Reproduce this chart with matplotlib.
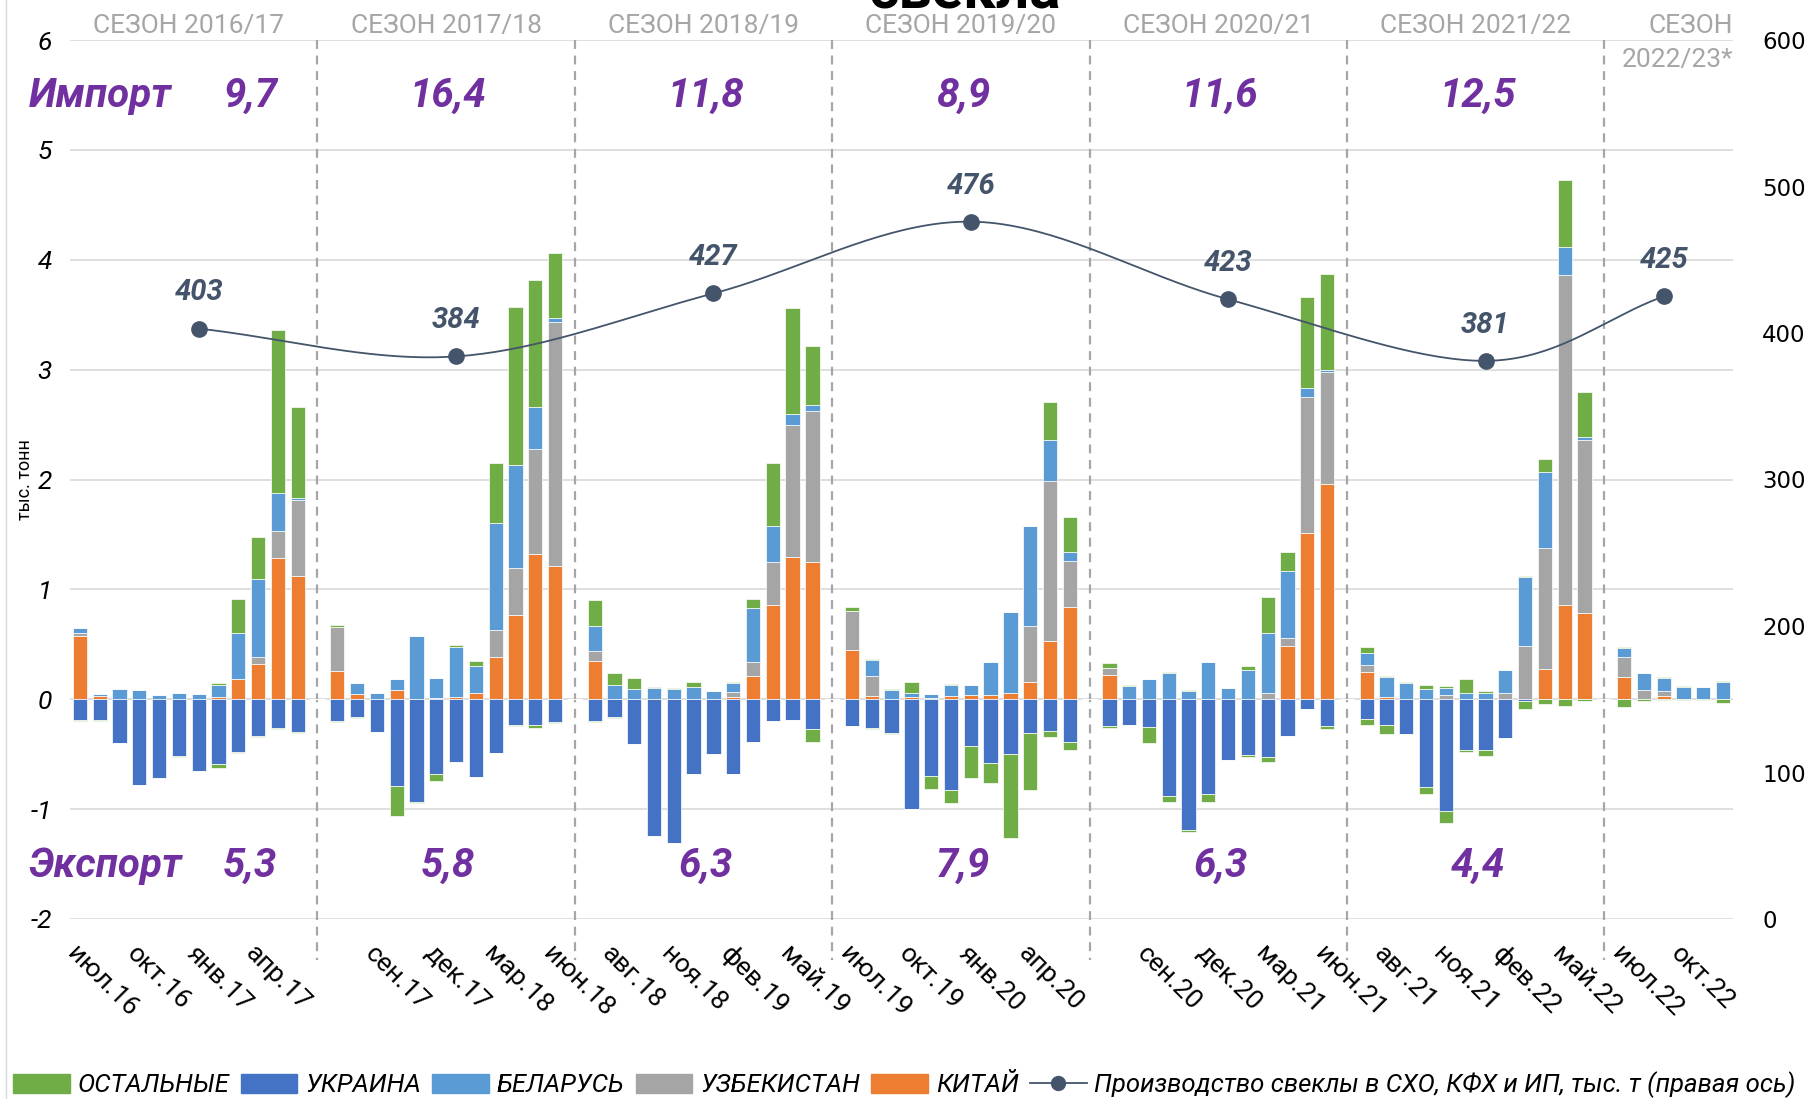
import matplotlib.pyplot as plt
import numpy as np
from matplotlib.patches import Patch
from matplotlib.lines import Line2D

plt.rcParams['font.family'] = ['Roboto', 'DejaVu Sans']

# месяцы (пустая строка = разрыв между сезонами)
periods = [
    'июл.16', 'авг.16', 'сен.16', 'окт.16', 'ноя.16', 'дек.16', 'янв.17', 'фев.17', 'мар.17', 'апр.17', 'май.17', 'июн.17', '',
    'июл.17', 'авг.17', 'сен.17', 'окт.17', 'ноя.17', 'дек.17', 'янв.18', 'фев.18', 'мар.18', 'апр.18', 'май.18', 'июн.18', '',
    'июл.18', 'авг.18', 'сен.18', 'окт.18', 'ноя.18', 'дек.18', 'янв.19', 'фев.19', 'мар.19', 'апр.19', 'май.19', 'июн.19', '',
    'июл.19', 'авг.19', 'сен.19', 'окт.19', 'ноя.19', 'дек.19', 'янв.20', 'фев.20', 'мар.20', 'апр.20', 'май.20', 'июн.20', '',
    'июл.20', 'авг.20', 'сен.20', 'окт.20', 'ноя.20', 'дек.20', 'янв.21', 'фев.21', 'мар.21', 'апр.21', 'май.21', 'июн.21', '',
    'июл.21', 'авг.21', 'сен.21', 'окт.21', 'ноя.21', 'дек.21', 'янв.22', 'фев.22', 'мар.22', 'апр.22', 'май.22', 'июн.22', '',
    'июл.22', 'авг.22', 'сен.22', 'окт.22', 'ноя.22', 'дек.22',
]

# импорт, тыс. т
china_imp = [
    .58, .03, 0, 0, 0, 0, 0, .017, .18, .32, 1.29, 1.12, 0,
    .26, .045, 0, .083, 0, .014, .024, .056, .38, .77, 1.325, 1.21, 0,
    .345, 0, 0, 0, 0, 0, 0, .02, .215, .86, 1.295, 1.25, 0,
    .446, .03, 0, .02, .015, .03, .036, .04, .057, .154, .527, .84, 0,
    .223, 0, 0, 0, 0, 0, 0, 0, 0, .483, 1.517, 1.96, 0,
    .25, .02, 0, 0, 0, 0, 0, 0, 0, .276, .86, .787, 0,
    .20, 0, .028, 0, 0, 0,
]
uzb_imp = [
    .025, 0, 0, 0, 0, 0, 0, 0, 0, .06, .24, .695, 0,
    .40, 0, 0, 0, 0, 0, 0, 0, .25, .42, .955, 2.22, 0,
    .09, 0, 0, 0, 0, 0, 0, .045, .125, .39, 1.20, 1.375, 0,
    .354, .185, 0, 0, 0, 0, 0, 0, 0, .516, 1.458, .418, 0,
    .061, 0, 0, 0, 0, 0, 0, 0, .053, .077, 1.238, 1.02, 0,
    .066, 0, 0, 0, .04, 0, 0, .053, .483, 1.104, 3.0, 1.57, 0,
    .187, .083, .044, 0, 0, 0,
]
bel_imp = [
    .045, .015, .09, .08, .035, .06, .045, .113, .425, .71, .345, .015, 0,
    0, .10, .056, .097, .58, .18, .456, .244, .97, .94, .38, .04, 0,
    .23, .13, .097, .105, .097, .114, .073, .08, .49, .325, .105, .05, 0,
    0, .145, .08, .04, .03, .10, .094, .30, .733, .905, .37, .085, 0,
    0, .118, .18, .235, .073, .337, .10, .264, .547, .61, .075, .02, 0,
    .104, .187, .146, .097, .06, .06, .06, .211, .632, .69, .26, .033, 0,
    .077, .155, .121, .116, .116, .16,
]
other_imp = [
    0, 0, 0, 0, 0, 0, 0, .016, .305, .39, 1.485, .83, 0,
    .015, 0, 0, 0, 0, 0, .01, .05, .55, 1.44, 1.16, .59, 0,
    .235, .105, .093, .01, .005, .04, .005, .012, .08, .575, .965, .54, 0,
    .04, .01, .01, .094, .005, .008, 0, 0, 0, .005, .35, .317, 0,
    .046, .012, 0, .012, .007, 0, 0, .036, .33, .17, .83, .866, 0,
    .06, .008, .008, .033, .018, .12, .017, .006, .009, .12, .61, .41, 0,
    .011, 0, .011, .004, 0, .01,
]
# экспорт, тыс. т (со знаком минус)
ukr_exp = [
    -.19, -.19, -.40, -.78, -.72, -.515, -.65, -.585, -.48, -.33, -.26, -.30, 0,
    -.20, -.16, -.30, -.79, -.935, -.68, -.567, -.71, -.487, -.236, -.236, -.21, 0,
    -.195, -.16, -.41, -1.245, -1.306, -.677, -.50, -.677, -.385, -.195, -.187, -.27, 0,
    -.247, -.264, -.31, -1.0, -.70, -.824, -.426, -.576, -.495, -.31, -.29, -.385, 0,
    -.24, -.23, -.25, -.88, -1.19, -.86, -.55, -.507, -.53, -.337, -.093, -.243, 0,
    -.18, -.23, -.316, -.80, -1.02, -.466, -.458, -.35, -.02, 0, 0, 0, 0,
    0, 0, 0, 0, 0, 0,
]
other_exp = [
    -.01, -.01, 0, 0, 0, -.01, 0, -.04, -.01, -.01, -.01, -.01, 0,
    -.01, -.01, 0, -.27, -.01, -.065, 0, 0, 0, -.01, -.03, -.01, 0,
    -.01, -.01, 0, 0, 0, 0, 0, 0, 0, 0, 0, -.115, 0,
    0, -.005, -.005, 0, -.12, -.121, -.294, -.184, -.77, -.514, -.055, -.075, 0,
    -.02, 0, -.15, -.057, -.02, -.077, 0, -.02, -.04, 0, 0, -.027, 0,
    -.055, -.086, 0, -.064, -.11, -.014, -.057, 0, -.073, -.045, -.06, -.016, 0,
    -.07, -.02, -.01, -.005, -.005, -.033,
]

# производство свеклы, тыс. т (правая ось)
prod_months = ['янв.17', 'янв.18', 'янв.19', 'янв.20', 'янв.21', 'янв.22', 'сен.22']
prod = [403, 384, 427, 476, 423, 381, 425]

seasons = ['СЕЗОН 2016/17', 'СЕЗОН 2017/18', 'СЕЗОН 2018/19', 'СЕЗОН 2019/20',
           'СЕЗОН 2020/21', 'СЕЗОН 2021/22']
import_total = ['9,7', '16,4', '11,8', '8,9', '11,6', '12,5']
export_total = ['5,3', '5,8', '6,3', '7,9', '6,3', '4,4']

colors = {
    'other': '#70AD47',
    'ukr': '#4472C4',
    'bel': '#5B9BD5',
    'uzb': '#A5A5A5',
    'china': '#ED7D31',
}
purple = '#7030A0'
slate = '#44546A'

x = np.arange(len(periods))
gaps = [i for i, p in enumerate(periods) if p == '']
starts = [0] + [g + 1 for g in gaps]

fig = plt.figure(figsize=(18.1, 10.99), dpi=100)
ax = fig.add_axes([70 / 1810, 1 - 919 / 1099, 1663 / 1810, 879 / 1099])

w = 0.72
bottom = np.zeros(len(x))
for vals, key in [(china_imp, 'china'), (uzb_imp, 'uzb'), (bel_imp, 'bel'), (other_imp, 'other')]:
    v = np.array(vals)
    ax.bar(x, v, w, bottom=bottom, color=colors[key], edgecolor='white', linewidth=0.5, zorder=2)
    bottom += v
bottom = np.zeros(len(x))
for vals, key in [(ukr_exp, 'ukr'), (other_exp, 'other')]:
    v = np.array(vals)
    ax.bar(x, v, w, bottom=bottom, color=colors[key], edgecolor='white', linewidth=0.5, zorder=2)
    bottom += v

ax.set_xlim(-0.5, len(x) - 0.5)
ax.set_ylim(-2, 6)
ax.set_yticks(range(-2, 7))
ax.set_yticklabels([str(t) for t in range(-2, 7)], fontsize=19, fontstyle='italic')
ax.set_xticks(x[::3])
ax.set_xticklabels(periods[::3], fontsize=19, rotation=-45, ha='left', va='top',
                   rotation_mode='anchor')
ax.tick_params(axis='x', length=0, pad=16)
ax.tick_params(axis='y', length=0, pad=13)
ax.grid(axis='y', color='#D9D9D9', linewidth=1.2, zorder=0)
ax.set_axisbelow(True)
for s in ax.spines.values():
    s.set_visible(False)

# разделители сезонов
for g in gaps:
    ax.plot([g, g], [6, -2.37], color='#A6A6A6', linestyle=(0, (4, 3)), linewidth=1.6,
            clip_on=False, zorder=1)

# подписи сезонов и итоги
for i, name in enumerate(seasons):
    c = starts[i] + 5.5
    ax.text(c, 6.13, name, ha='center', va='center', fontsize=19, color='#A6A6A6', clip_on=False)
    xi = c + 3.1 if i == 0 else c + 0.1
    ax.text(xi, 5.49, import_total[i], ha='center', va='center', fontsize=29,
            fontweight='bold', fontstyle='italic', color=purple)
    ax.text(xi, -1.52, export_total[i], ha='center', va='center', fontsize=29,
            fontweight='bold', fontstyle='italic', color=purple)
ax.text(len(x) - 0.5, 6.13, 'СЕЗОН', ha='right', va='center', fontsize=19, color='#A6A6A6',
        clip_on=False)
ax.text(len(x) - 0.5, 5.82, '2022/23*', ha='right', va='center', fontsize=19, color='#A6A6A6',
        clip_on=False)
ax.text(-2.6, 5.49, 'Импорт', ha='left', va='center', fontsize=29, fontweight='bold',
        fontstyle='italic', color=purple, clip_on=False)
ax.text(-2.6, -1.52, 'Экспорт', ha='left', va='center', fontsize=29, fontweight='bold',
        fontstyle='italic', color=purple, clip_on=False)

# правая ось: производство
ax2 = ax.twinx()
ax2.set_ylim(0, 600)
ax2.set_yticks(range(0, 601, 100))
ax2.set_yticklabels([str(t) for t in range(0, 601, 100)], fontsize=16.5, family='DejaVu Sans')
ax2.tick_params(axis='y', length=0, pad=21)
for s in ax2.spines.values():
    s.set_visible(False)

px = np.array([periods.index(m) for m in prod_months], dtype=float)
py = np.array(prod, dtype=float)
# сглаженная линия как в Excel (кривые Безье через точки)
pts = np.column_stack([px, py])
tang = np.zeros_like(pts)
tang[1:-1] = (pts[2:] - pts[:-2]) / 2
tang[0] = pts[1] - pts[0]
tang[-1] = pts[-1] - pts[-2]
t = np.linspace(0, 1, 40)[:, None]
curve = []
for i in range(len(pts) - 1):
    p0, p3 = pts[i], pts[i + 1]
    p1, p2 = p0 + tang[i] / 3, p3 - tang[i + 1] / 3
    seg = (1 - t) ** 3 * p0 + 3 * (1 - t) ** 2 * t * p1 + 3 * (1 - t) * t ** 2 * p2 + t ** 3 * p3
    curve.append(seg)
curve = np.vstack(curve)
ax2.plot(curve[:, 0], curve[:, 1], color=slate, linewidth=1.3, zorder=3)
ax2.plot(px, py, 'o', color=slate, markersize=11, zorder=4)
for xx, yy in zip(px, py):
    ax2.annotate(str(int(yy)), (xx, yy), xytext=(0, 26), textcoords='offset points',
                 ha='center', va='center', fontsize=21, fontweight='bold',
                 fontstyle='italic', color=slate)

# заголовок (обрезан сверху)
fig.text(0.533, 0.992, 'свекла', ha='center', va='baseline', fontsize=42, fontweight='bold')
fig.text(25 / 1810, 0.564, 'тыс. тонн', rotation=90, ha='center', va='center', fontsize=13)
fig.add_artist(Line2D([6 / 1810, 6 / 1810], [0, 1], color='#D9D9D9', linewidth=1))

handles = [
    Patch(color=colors['other']), Patch(color=colors['ukr']), Patch(color=colors['bel']),
    Patch(color=colors['uzb']), Patch(color=colors['china']),
    Line2D([], [], color=slate, marker='o', markersize=10, linewidth=1.3),
]
labels = ['ОСТАЛЬНЫЕ', 'УКРАИНА', 'БЕЛАРУСЬ', 'УЗБЕКИСТАН', 'КИТАЙ',
          'Производство свеклы в СХО, КФХ и ИП, тыс. т (правая ось)']
fig.legend(handles, labels, loc='center', bbox_to_anchor=(0.4997, 0.0127), ncol=6,
           frameon=False, prop={'size': 18.5, 'style': 'italic'}, handlelength=2.2,
           handleheight=0.75, columnspacing=0.45, handletextpad=0.3, borderaxespad=0)

fig.savefig('out.png', dpi=100)
